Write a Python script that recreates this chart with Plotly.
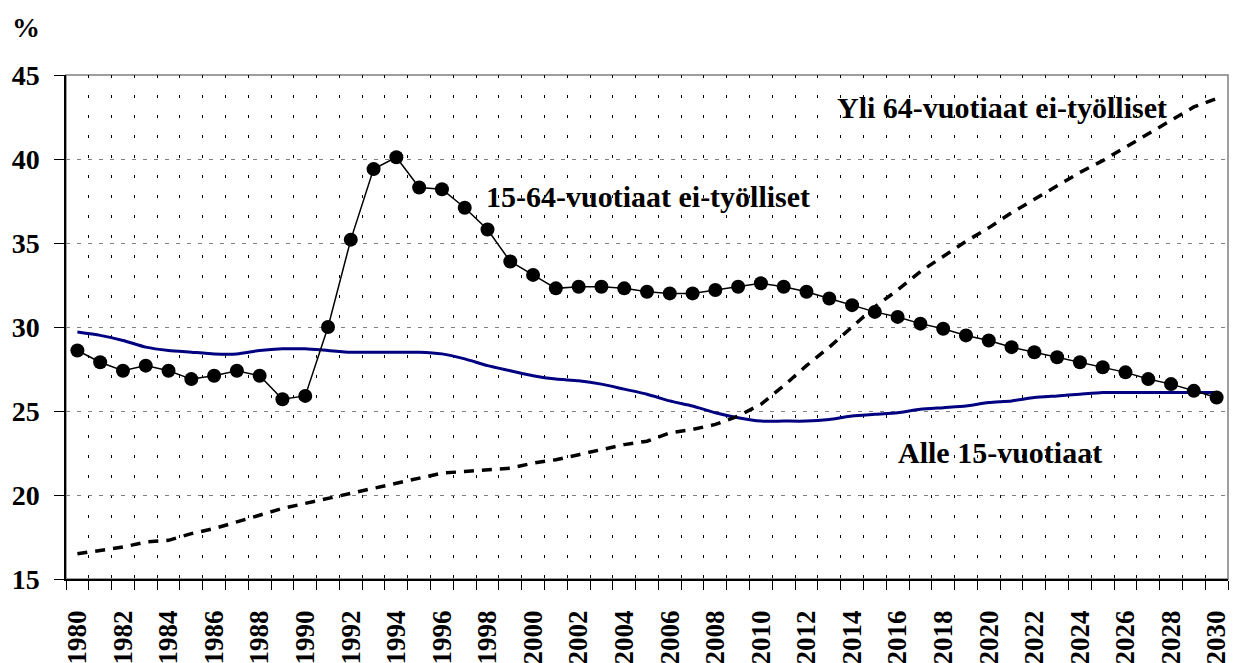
import plotly.graph_objects as go

# --- data (share of population, %)
years = list(range(1980, 2031))

ei_tyolliset_15_64 = [
    28.6, 27.9, 27.4, 27.7, 27.4, 26.9, 27.1, 27.4, 27.1, 25.7,
    25.9, 30.0, 35.2, 39.4, 40.1, 38.3, 38.2, 37.1, 35.8, 33.9,
    33.1, 32.3, 32.4, 32.4, 32.3, 32.1, 32.0, 32.0, 32.2, 32.4,
    32.6, 32.4, 32.1, 31.7, 31.3, 30.9, 30.6, 30.2, 29.9, 29.5,
    29.2, 28.8, 28.5, 28.2, 27.9, 27.6, 27.3, 26.9, 26.6, 26.2,
    25.8,
]

alle_15 = [
    29.7, 29.5, 29.2, 28.8, 28.6, 28.5, 28.4, 28.4, 28.6, 28.7,
    28.7, 28.6, 28.5, 28.5, 28.5, 28.5, 28.4, 28.1, 27.7, 27.4,
    27.1, 26.9, 26.8, 26.6, 26.3, 26.0, 25.6, 25.3, 24.9, 24.6,
    24.4, 24.4, 24.4, 24.5, 24.7, 24.8, 24.9, 25.1, 25.2, 25.3,
    25.5, 25.6, 25.8, 25.9, 26.0, 26.1, 26.1, 26.1, 26.1, 26.1,
    26.1,
]

yli_64 = [
    16.5, 16.7, 16.9, 17.2, 17.3, 17.7, 18.0, 18.4, 18.8, 19.2,
    19.5, 19.8, 20.1, 20.4, 20.7, 21.0, 21.3, 21.4, 21.5, 21.6,
    21.9, 22.1, 22.4, 22.7, 23.0, 23.2, 23.7, 23.9, 24.2, 24.7,
    25.4, 26.5, 27.7, 28.8, 30.0, 31.2, 32.2, 33.3, 34.2, 35.1,
    35.9, 36.8, 37.6, 38.4, 39.2, 39.9, 40.7, 41.5, 42.3, 43.1,
    43.6,
]

label_years = years[::2]
boundaries = [y - 0.5 for y in years] + [years[-1] + 0.5]

FONT = "Liberation Serif"

fig = go.Figure()

# --- Alle 15-vuotiaat (smooth navy line)
fig.add_trace(go.Scatter(
    x=years, y=alle_15, mode="lines",
    line=dict(color="#000080", width=3, shape="spline", smoothing=0.6),
    name="Alle 15-vuotiaat"))

# --- Yli 64-vuotiaat ei-työlliset (dashed)
fig.add_trace(go.Scatter(
    x=years, y=yli_64, mode="lines",
    line=dict(color="black", width=3.5, dash="10px,8px"),
    name="Yli 64-vuotiaat ei-työlliset"))

# --- 15-64-vuotiaat ei-työlliset (dots)
fig.add_trace(go.Scatter(
    x=years, y=ei_tyolliset_15_64, mode="lines+markers",
    line=dict(color="black", width=1.5),
    marker=dict(color="black", size=14),
    name="15-64-vuotiaat ei-työlliset"))

# --- plot frame (gray top/right)
fig.add_shape(type="rect", xref="paper", yref="paper", x0=0, x1=1, y0=0, y1=1,
              line=dict(color="#808080", width=1.5), layer="below")

annots = [
    ("15-64-vuotiaat ei-työlliset", 2005.05, 37.75),
    ("Yli 64-vuotiaat ei-työlliset", 2020.57, 43.05),
    ("Alle 15-vuotiaat", 2020.5, 22.55),
]
for txt, ax, ay in annots:
    fig.add_annotation(x=ax, y=ay, text=txt, showarrow=False,
                       xanchor="center", yanchor="middle",
                       font=dict(family=FONT, size=30, color="black", weight="bold"))

fig.add_annotation(x=-0.0344, y=1.095, xref="paper", yref="paper", text="%",
                   showarrow=False, xanchor="center", yanchor="middle",
                   font=dict(family=FONT, size=28, color="black", weight="bold"))

fig.update_xaxes(
    range=[boundaries[0], boundaries[-1]], automargin=False,
    tickmode="array", tickvals=label_years, ticktext=[str(y) for y in label_years],
    tickangle=-90, ticks="outside", ticklen=9, tickcolor="rgba(0,0,0,0)",
    ticklabelstandoff=10,
    tickfont=dict(family=FONT, size=27, color="black", weight="bold"),
    showgrid=False, zeroline=False,
    showline=True, linecolor="black", linewidth=1.5,
    minor=dict(tickmode="array", tickvals=boundaries, ticks="outside", ticklen=9,
               tickcolor="black", tickwidth=1,
               showgrid=True, gridcolor="black", griddash="3px,17px", gridwidth=1),
)
fig.update_yaxes(
    range=[15, 45], dtick=5, tick0=15, automargin=False,
    ticks="outside", ticklen=10, tickcolor="black",
    ticklabelstandoff=9,
    tickfont=dict(family=FONT, size=28, color="black", weight="bold"),
    showgrid=True, gridcolor="#808080", griddash="4px,7px", gridwidth=1,
    zeroline=False, showline=True, linecolor="black", linewidth=1.5,
)

# page body adds an 8px offset, margins compensate for it
fig.update_layout(
    width=1238, height=663,
    margin=dict(l=58, r=18, t=67, b=92),
    paper_bgcolor="white", plot_bgcolor="white",
    showlegend=False,
)

fig.write_html("out.html")
